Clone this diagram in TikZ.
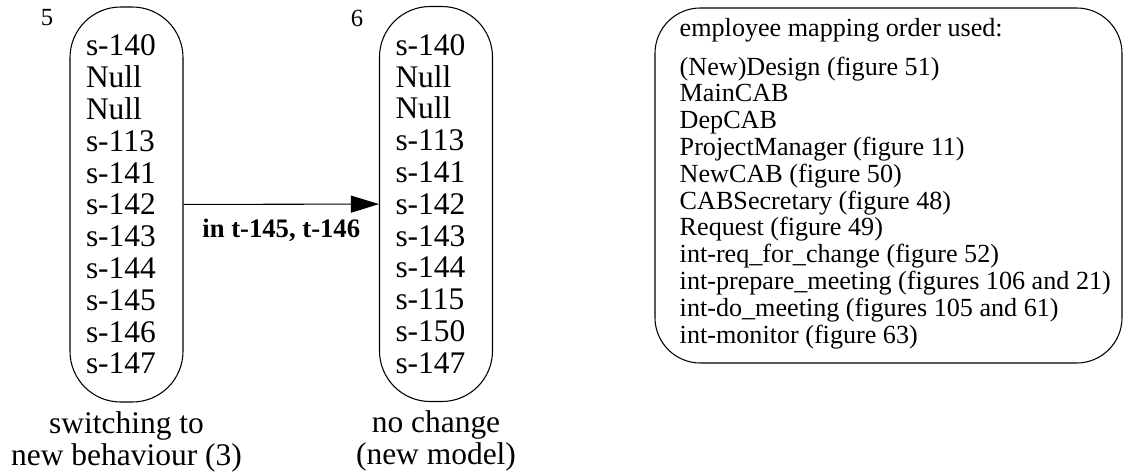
\documentclass[tikz,border=0pt]{standalone}
\usepackage{fontspec}
\setmainfont{Liberation Serif}
\usepackage{tikz}
\usetikzlibrary{positioning, arrows.meta}

\begin{document}
\begin{tikzpicture}[
    x=0.75pt, y=-0.75pt,
    listbox/.style={draw=black, line width=0.8pt, rectangle, rounded corners=38pt, inner xsep=12pt, text width=60.75pt, minimum height=296.25pt, align=left, font=\fontsize{23.6pt}{23.85pt}\selectfont},
    orderbox/.style={draw=black, line width=0.8pt, rectangle, rounded corners=34pt, minimum width=350.25pt, minimum height=266.25pt},
    ordertext/.style={inner sep=0pt, align=left, font=\fontsize{19.6pt}{20.1pt}\selectfont},
    caption/.style={align=center, font=\fontsize{23.6pt}{24pt}\selectfont},
    steplabel/.style={font=\fontsize{18.5pt}{20pt}\selectfont},
    flow/.style={line width=0.8pt, -{Triangle[length=21pt, width=12.75pt]}},
    flowlabel/.style={font=\fontsize{20pt}{22pt}\selectfont\bfseries}
]
\useasboundingbox (0,0) rectangle (1124,475);

% model states
\node[listbox] (box5) at (126.5,204.5) {s-140\\Null\\Null\\s-113\\s-141\\s-142\\s-143\\s-144\\s-145\\s-146\\s-147};
\node[listbox] (box6) at (436,204) {s-140\\Null\\Null\\s-113\\s-141\\s-142\\s-143\\s-144\\s-115\\s-150\\s-147};

% state numbers
\node[steplabel] (num5) at (47,18) {5};
\node[steplabel] (num6) at (357,18) {6};

% captions below the states
\node[caption, below=3pt of box5] (cap5) {switching to\\new behaviour (3)};
\node[caption, below=3pt of box6] (cap6) {no change\\(new model)};

% transition
\draw[flow] (box5) -- (box6) node[midway, below=7pt, flowlabel] {in t-145, t-146};

% mapping order
\node[orderbox] (order) at (888.5,185.5) {};
\node[ordertext, right=18.75pt of order.west, yshift=1.6pt] (ordertxt) {employee mapping order used:\\[9pt]
(New)Design (figure 51)\\
MainCAB\\
DepCAB\\
ProjectManager (figure 11)\\
NewCAB (figure 50)\\
CABSecretary (figure 48)\\
Request (figure 49)\\
int-req\_for\_change (figure 52)\\
int-prepare\_meeting (figures 106 and 21)\\
int-do\_meeting (figures 105 and 61)\\
int-monitor (figure 63)};

\end{tikzpicture}
\end{document}
